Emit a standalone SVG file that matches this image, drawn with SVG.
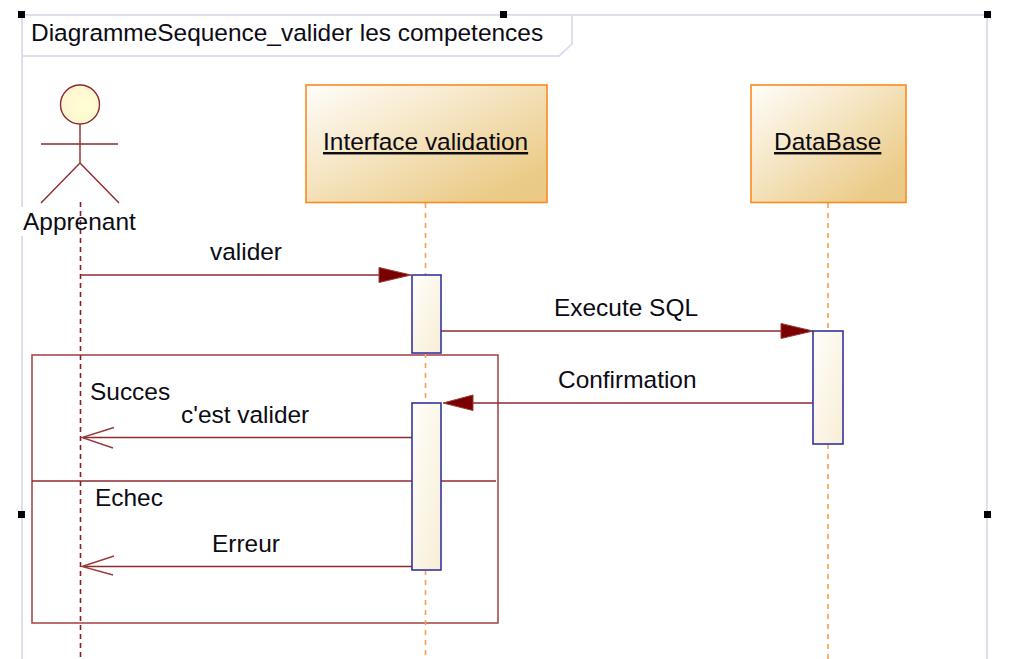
<svg xmlns="http://www.w3.org/2000/svg" width="1026" height="659" viewBox="0 0 1026 659">
<style>
text{font-family:"Liberation Sans",Arial,sans-serif;font-size:24.450px;fill:#0c0c14}
.frame{fill:none;stroke:#dedeef;stroke-width:2}
.handle{fill:#000}
.msg{fill:none;stroke:#8e2a2e;stroke-width:1.6}
.head{fill:#7a0000;stroke:#9a3a3a;stroke-width:1}
.open{fill:none;stroke:#9a3a3e;stroke-width:1.4}
.life{fill:none;stroke:#fb9d4a;stroke-width:1.6;stroke-dasharray:5 5}
.lifer{fill:none;stroke:#8e1c24;stroke-width:1.6;stroke-dasharray:5 4}
.obj{fill:url(#g);stroke:#fc8a1e;stroke-width:1.6}
.act{fill:url(#a);stroke:#3434a0;stroke-width:1.6}
.act2{fill:none;stroke:#a84a4e;stroke-width:1.6}
.actor{fill:none;stroke:#8e2a2e;stroke-width:1.4}
</style>
<defs>
<linearGradient id="g" x1="0" y1="0" x2="1" y2="1"><stop offset="0" stop-color="#fffefb"/><stop offset=".85" stop-color="#ebcb88"/><stop offset="1" stop-color="#e9c985"/></linearGradient>
<linearGradient id="a" x1="0" y1="0" x2="1" y2="1"><stop offset="0" stop-color="#fffefa"/><stop offset="1" stop-color="#f8eed6"/></linearGradient>
<radialGradient id="h" cx=".6" cy=".55" r=".7"><stop offset="0" stop-color="#ffffd0"/><stop offset="1" stop-color="#fdf3d4"/></radialGradient>
</defs>
<g id="frame">
<path class="frame" d="M22 15H987V659"/>
<path class="frame" d="M22 15V207M22 236V659"/>
<path class="frame" d="M22 56H559L572 44V15"/>
<rect class="handle" x="18" y="11" width="7" height="7"/>
<rect class="handle" x="500" y="11" width="7" height="7"/>
<rect class="handle" x="984" y="11" width="7" height="7"/>
<rect class="handle" x="18" y="511" width="7" height="7"/>
<rect class="handle" x="984" y="511" width="7" height="7"/>
<text x="31" y="41">DiagrammeSequence_valider les competences</text>
</g>
<g id="fragment">
<rect class="act2" x="32" y="355" width="466" height="268"/>
<path d="M32 481H496" fill="none" stroke="#8e2a2e" stroke-width="1.4"/>
<text x="90" y="400">Succes</text>
<text x="95" y="506">Echec</text>
</g>
<g id="connectors">
<path class="lifer" d="M80.500 202V659"/>
<path class="life" d="M425.500 203V275M425.500 353V403M425.500 570V659"/>
<path class="life" d="M828 203V331M828 444V659"/>
<path class="msg" d="M81 275H380"/>
<path class="head" d="M379 267.500L411 275L379 282.500Z"/>
<path class="msg" d="M441 331H782"/>
<path class="head" d="M781 323.500L813 331L781 338.500Z"/>
<path class="msg" d="M813 403H472"/>
<path class="head" d="M473 395L443 403L473 410.500Z"/>
<path class="msg" d="M412 437.500H83"/>
<path class="open" d="M114 427.500L82 437.500L113 448"/>
<path class="msg" d="M412 566.500H83"/>
<path class="open" d="M114 556L82 566.500L113 575"/>
<text x="210" y="260">valider</text>
<text x="554" y="316">Execute SQL</text>
<text x="558" y="388">Confirmation</text>
<text x="181" y="423">c'est valider</text>
<text x="212" y="552">Erreur</text>
</g>
<g id="apprenant">
<ellipse cx="80" cy="104.500" rx="19.500" ry="19.500" fill="url(#h)" stroke="#8e2a2e" stroke-width="1.4"/>
<path class="actor" d="M80 124V163L41 203M80 163L119 203M41 144H118"/>
<text x="23" y="230">Apprenant</text>
</g>
<g id="interface">
<rect class="obj" x="306" y="85" width="241" height="117.500"/>
<text x="323" y="150" text-decoration="underline">Interface validation</text>
</g>
<g id="database">
<rect class="obj" x="751" y="85" width="155" height="117.500"/>
<text x="774" y="150" text-decoration="underline">DataBase</text>
</g>
<g id="activation1"><rect class="act" x="412" y="275" width="29" height="78"/></g>
<g id="activation2"><rect class="act" x="813" y="331" width="30" height="113"/></g>
<g id="activation3"><rect class="act" x="412" y="403" width="29" height="167"/></g>
</svg>
